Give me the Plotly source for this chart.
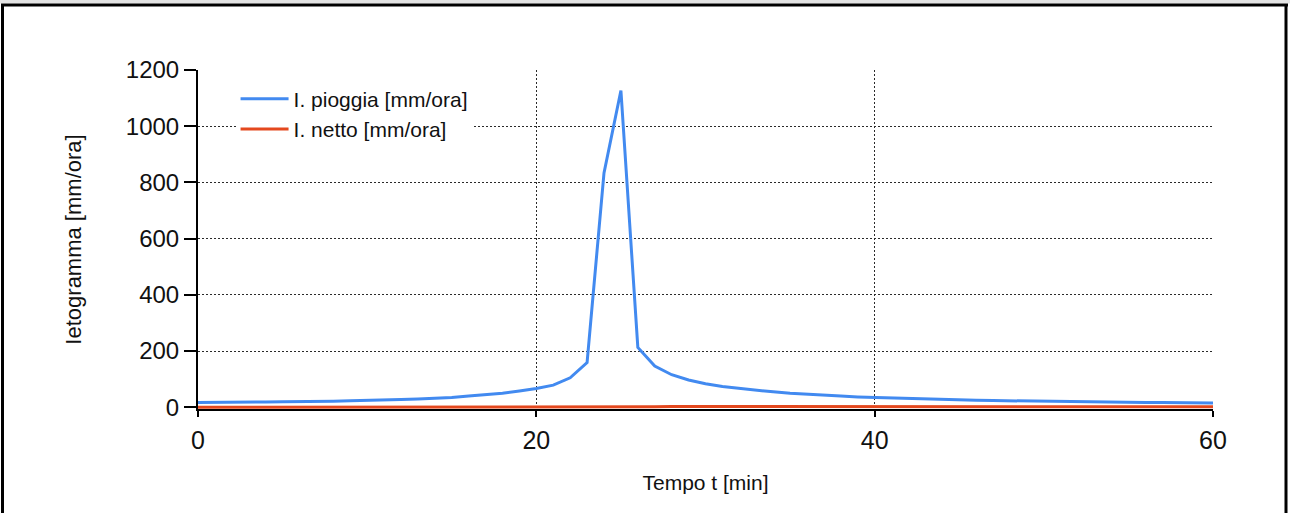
import plotly.graph_objects as go

# ---- data ----
tempo = list(range(0, 61))
i_pioggia = [17, 17, 18, 18, 19, 20, 20, 21, 22, 23,
             24, 26, 28, 30, 32, 35, 40, 44, 50, 58,
             67, 79, 105, 159, 834, 1127, 213, 147, 116, 97,
             84, 74, 67, 60, 55, 50, 46, 43, 40, 37,
             35, 33, 31, 29, 27, 26, 25, 24, 23, 22,
             21, 20, 20, 19, 19, 18, 17, 17, 16, 16, 15]
i_netto = [0] * 27 + [2, 3, 3, 3, 3, 3, 3, 3, 3, 3,
                      3, 3, 3, 3, 3, 3, 3, 3, 3, 3,
                      3, 3, 3, 3, 3, 3, 3, 3, 3, 3,
                      3, 2, 2, 2]
x_ticks = [0, 20, 40, 60]
y_ticks = [0, 200, 400, 600, 800, 1000, 1200]

FONT = "Liberation Sans, Arial, sans-serif"
W, H = 1290, 513
L, R, T, B = 198, 77, 70, 104
PW, PH = W - L - R, H - T - B


def px_x(p):
    return (p - L) / PW


def px_y(p):
    return (H - B - p) / PH


fig = go.Figure()
fig.add_trace(go.Scatter(x=tempo, y=i_pioggia, mode="lines", name="I. pioggia [mm/ora]",
                         line=dict(color="#428AF0", width=3)))
fig.add_trace(go.Scatter(x=tempo, y=i_netto, mode="lines", name="I. netto [mm/ora]",
                         line=dict(color="#E4481E", width=3)))

GRID = dict(showgrid=True, gridcolor="#2a2a2a", gridwidth=1, griddash="2px,2px")

fig.update_layout(
    width=W, height=H,
    margin=dict(l=L, r=R, t=T, b=B, autoexpand=False),
    paper_bgcolor="white", plot_bgcolor="white",
    font=dict(family=FONT, color="#111111"),
    showlegend=True,
    legend=dict(x=0.037, y=0.975, xanchor="left", yanchor="top",
                bgcolor="white", borderwidth=0, itemwidth=48,
                font=dict(family=FONT, size=21, color="#111111"),
                tracegroupgap=0),
    xaxis=dict(range=[0, 60], tickvals=x_ticks, ticktext=[str(v) for v in x_ticks],
               showline=True, linecolor="black", linewidth=2,
               ticks="outside", ticklen=6, tickwidth=2, tickcolor="black",
               zeroline=False, tickfont=dict(size=25, color="#111111"),
               ticklabelstandoff=2,
               title=dict(text="Tempo t [min]", font=dict(size=21, color="#111111"), standoff=22),
               **GRID),
    yaxis=dict(range=[-6, 1200], tickvals=y_ticks, ticktext=[str(v) for v in y_ticks],
               showline=True, linecolor="black", linewidth=2,
               ticks="outside", ticklen=12, tickwidth=2, tickcolor="black",
               zeroline=False, tickfont=dict(size=24, color="#111111"),
               title=dict(text="Ietogramma [mm/ora]", font=dict(size=22, color="#111111"), standoff=38),
               **GRID),
)

# outer frame of the original window
fig.add_shape(type="rect", xref="paper", yref="paper",
              x0=px_x(-2), x1=px_x(1300), y0=px_y(3.5), y1=px_y(-5),
              fillcolor="#E3E3E3", line=dict(width=0), layer="above")
fig.add_shape(type="line", xref="paper", yref="paper",
              x0=px_x(1), x1=px_x(1288), y0=px_y(5), y1=px_y(5),
              line=dict(color="black", width=3), layer="above")
fig.add_shape(type="line", xref="paper", yref="paper",
              x0=px_x(2.5), x1=px_x(2.5), y0=px_y(4), y1=px_y(520),
              line=dict(color="black", width=3), layer="above")
fig.add_shape(type="line", xref="paper", yref="paper",
              x0=px_x(1286), x1=px_x(1286), y0=px_y(4), y1=px_y(520),
              line=dict(color="black", width=3), layer="above")

fig.write_html("out.html", config={"displayModeBar": False},
               post_script="document.body.style.margin='0px';document.body.style.padding='0px';")
